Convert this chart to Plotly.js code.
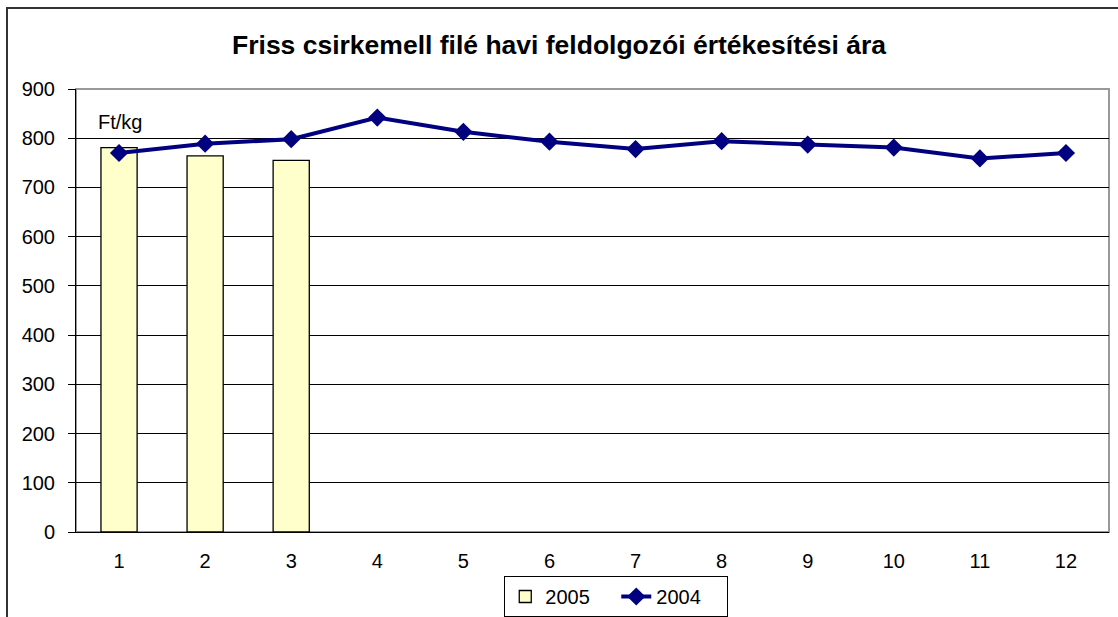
<!DOCTYPE html>
<html>
<head>
<meta charset="utf-8">
<script src="https://cdn.plot.ly/plotly-3.0.1.min.js"></script>
<style>
  html, body { margin: 0; padding: 0; background: #fff; }
  #chart { width: 1118px; height: 617px; }
</style>
</head>
<body>
<div id="chart"></div>
<script>
// Data
const months = [1, 2, 3, 4, 5, 6, 7, 8, 9, 10, 11, 12];
const monthLabels = ["1", "2", "3", "4", "5", "6", "7", "8", "9", "10", "11", "12"];
const months2005 = [1, 2, 3];
const values2005 = [781, 764, 755];
const values2004 = [770, 789, 798, 842, 813, 793, 778, 794, 787, 781, 759, 770];
const yTicks = [0, 100, 200, 300, 400, 500, 600, 700, 800, 900];
const boundaries = [0.5, 1.5, 2.5, 3.5, 4.5, 5.5, 6.5, 7.5, 8.5, 9.5, 10.5, 11.5, 12.5];

const FONT = "Liberation Sans, Arial, Helvetica, sans-serif";
const FS = 20;

const traces = [
  {
    type: "bar",
    name: "2005",
    x: months2005,
    y: values2005,
    width: 0.42,
    marker: { color: "#FFFFCC", line: { color: "#000000", width: 1.3 } },
    xaxis: "x",
    yaxis: "y"
  },
  {
    type: "scatter",
    mode: "lines+markers",
    name: "2004",
    x: months,
    y: values2004,
    line: { color: "#000080", width: 4 },
    marker: { symbol: "diamond", size: 14, color: "#000080" },
    xaxis: "x",
    yaxis: "y"
  }
];

const layout = {
  width: 1118,
  height: 617,
  margin: { l: 76, r: 9, t: 89, b: 85, autoexpand: false },
  paper_bgcolor: "#ffffff",
  plot_bgcolor: "#ffffff",
  font: { family: FONT, size: FS, color: "#000000" },
  title: {
    text: "<b>Friss csirkemell filé havi feldolgozói értékesítési ára</b>",
    font: { family: FONT, size: 26.5, color: "#000000" },
    x: 0.5,
    xref: "container",
    y: 1 - 45 / 617,
    yref: "container",
    yanchor: "middle"
  },
  showlegend: true,
  legend: {
    orientation: "h",
    x: 0.523,
    xanchor: "center",
    xref: "paper",
    y: 1 - 576 / 617,
    yref: "container",
    yanchor: "top",
    bordercolor: "#000000",
    borderwidth: 1,
    bgcolor: "#ffffff",
    font: { family: FONT, size: FS, color: "#000000" },
    traceorder: "normal",
    entrywidth: 66
  },
  xaxis: {
    type: "linear",
    range: [0.5, 12.5],
    tickvals: months,
    ticktext: monthLabels,
    ticks: "",
    ticklabelstandoff: 11,
    automargin: false,
    showgrid: false,
    zeroline: false,
    showline: true,
    linecolor: "#000000",
    linewidth: 1,
    tickfont: { family: FONT, size: FS, color: "#000000" },
    fixedrange: true
  },
  xaxis2: {
    type: "linear",
    overlaying: "x",
    anchor: "y",
    side: "bottom",
    range: [0.5, 12.5],
    tickvals: boundaries,
    ticks: "outside",
    ticklen: 6,
    tickcolor: "#000000",
    tickwidth: 1,
    showticklabels: false,
    showgrid: false,
    zeroline: false,
    showline: false,
    automargin: false
  },
  xaxis3: {
    type: "linear",
    overlaying: "x",
    anchor: "y",
    side: "bottom",
    range: [0.5, 12.5],
    tickvals: boundaries,
    ticks: "inside",
    ticklen: 6,
    tickcolor: "#000000",
    tickwidth: 1,
    showticklabels: false,
    showgrid: false,
    zeroline: false,
    showline: false,
    automargin: false
  },
  yaxis: {
    range: [0, 900],
    tickvals: yTicks,
    ticks: "outside",
    ticklen: 7,
    tickcolor: "#000000",
    ticklabelstandoff: 9,
    automargin: false,
    showgrid: true,
    gridcolor: "#000000",
    gridwidth: 1,
    zeroline: false,
    showline: true,
    linecolor: "#000000",
    linewidth: 1,
    tickfont: { family: FONT, size: FS, color: "#000000" },
    fixedrange: true
  },
  annotations: [
    {
      text: "Ft/kg",
      x: 0.732,
      y: 833,
      xref: "x",
      yref: "y",
      xanchor: "left",
      yanchor: "middle",
      showarrow: false,
      font: { family: FONT, size: FS, color: "#000000" }
    }
  ],
  shapes: [
    {
      type: "rect",
      xref: "paper", yref: "paper",
      x0: 0, x1: 1, y0: 0, y1: 1,
      line: { color: "#999999", width: 2 },
      fillcolor: "rgba(0,0,0,0)",
      layer: "below"
    },
    {
      type: "rect",
      xref: "paper", yref: "paper",
      x0: -0.0668, x1: 1.03, y0: 1.183, y1: -0.3,
      line: { color: "#333333", width: 2 },
      fillcolor: "rgba(0,0,0,0)",
      layer: "above"
    }
  ]
};

Plotly.newPlot("chart", traces, layout, { displayModeBar: false, staticPlot: true });
</script>
</body>
</html>
